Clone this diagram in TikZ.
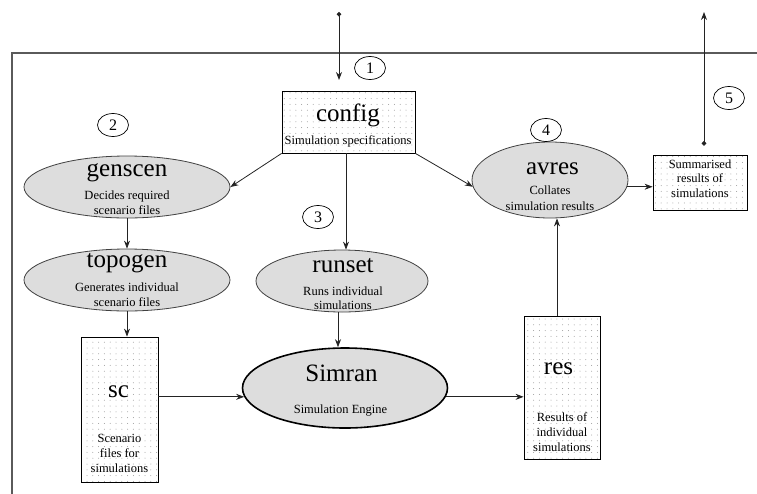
\documentclass[tikz,border=0pt]{standalone}
\usepackage{fontspec}
\setmainfont{Liberation Serif}
\newfontfamily\diagfont{Liberation Serif}
\usetikzlibrary{shapes.geometric,arrows.meta,patterns,calc}
\pgfdeclarepatternformonly{sparsedots}{\pgfqpoint{-1pt}{-1pt}}{\pgfqpoint{1pt}{1pt}}{\pgfqpoint{5.8pt}{5.8pt}}{\pgfpathcircle{\pgfpointorigin}{0.5pt}\pgfusepath{fill}}
\newcommand\mlines[1]{\begin{tabular}[t]{@{}c@{}}#1\end{tabular}}
\definecolor{ellfill}{RGB}{221,221,221}
\definecolor{framec}{RGB}{90,90,90}
\definecolor{linec}{RGB}{35,35,35}
\tikzset{
  proc/.style={ellipse, draw=black!75, fill=ellfill, line width=0.8pt, inner sep=0pt},
  filebox/.style={rectangle, draw=black, line width=0.8pt, pattern=sparsedots, pattern color=black!40, inner sep=0pt},
  numlbl/.style={ellipse, draw=black, line width=0.7pt, minimum width=31pt, minimum height=23pt, inner sep=0pt, font=\diagfont\fontsize{16}{18}\selectfont},
  ttl/.style={anchor=base, font=\diagfont\fontsize{25}{28}\selectfont, inner sep=0pt},
  sub/.style={anchor=base, font=\diagfont\fontsize{12.5}{15}\selectfont, inner sep=0pt},
  arr/.style={draw=linec, line width=0.8pt, -{Stealth[length=8pt,width=6pt]}},
  dotarr/.style={draw=linec, line width=0.8pt, {Circle[length=4.5pt]}-{Stealth[length=8pt,width=6pt]}},
  frameline/.style={draw=framec, line width=1.6pt}
}
\begin{document}
\begin{tikzpicture}[x=1pt,y=-1pt]
\useasboundingbox (0,0) rectangle (757,493);
% outer frame
\draw[frameline] (12,497) -- (12,53) -- (761,53);

% shapes
\node[filebox, minimum width=133pt, minimum height=62pt] (config) at (348.5,122) {};
\node[proc, minimum width=206pt, minimum height=62pt] (genscen) at (127,187) {};
\node[proc, minimum width=206pt, minimum height=62pt] (topogen) at (127,280) {};
\node[proc, minimum width=172pt, minimum height=62pt] (runset) at (342,281) {};
\node[proc, draw=black, line width=1.6pt, minimum width=205pt, minimum height=80pt] (simran) at (345,388) {};
\node[filebox, minimum width=77pt, minimum height=145pt] (sc) at (119.5,409.5) {};
\node[filebox, minimum width=76pt, minimum height=143pt] (res) at (562,387.5) {};
\node[proc, minimum width=156pt, minimum height=76pt] (avres) at (550,180) {};
\node[filebox, minimum width=94pt, minimum height=55pt] (summ) at (700,182.5) {};

% step numbers
\node[numlbl] (n1) at (370,68) {1};
\node[numlbl] (n2) at (113,125) {2};
\node[numlbl] (n3) at (318,217) {3};
\node[numlbl] (n4) at (546,130) {4};
\node[numlbl] (n5) at (729,98) {5};

% texts
\node[ttl] (tconfig) at (348,121) {config};
\node[sub] (sconfig) at (348,144) {Simulation specifications};
\node[ttl] (tgenscen) at (127,176) {genscen};
\node[sub] (sgenscen) at (127,199) {\mlines{Decides required\\scenario files}};
\node[ttl] (ttopogen) at (127,267) {topogen};
\node[sub] (stopogen) at (127,291) {\mlines{Generates individual\\scenario files}};
\node[ttl] (trunset) at (343,272) {runset};
\node[sub, font=\diagfont\fontsize{12.5}{14}\selectfont] (srunset) at (343,295) {\mlines{Runs individual\\simulations}};
\node[ttl] (tsimran) at (341.5,381) {Simran};
\node[sub] (ssimran) at (340.5,413) {Simulation Engine};
\node[ttl] (tsc) at (118.5,397) {sc};
\node[sub] (ssc) at (119.5,442) {\mlines{Scenario\\files for\\simulations}};
\node[ttl] (tres) at (558.5,374) {res};
\node[sub] (sres) at (562,421) {\mlines{Results of\\individual\\simulations}};
\node[ttl] (tavres) at (552.5,174) {avres};
\node[sub, font=\diagfont\fontsize{12.5}{16}\selectfont] (savres) at (550,194) {\mlines{Collates\\simulation results}};
\node[sub, font=\diagfont\fontsize{12.5}{14.5}\selectfont] (ssumm) at (700,168) {\mlines{Summarised\\results of\\simulations}};

% helper coordinates
\coordinate (rtop) at ($(runset.north)+(4,0)$);
\coordinate (rbot) at ($(runset.south)+(-4,0)$);
\coordinate (restop) at ($(res.north)+(-5,0)$);
\coordinate (sumtop) at ($(summ.north)+(4,-9)$);
\coordinate (in1) at (339,12);
\coordinate (in1end) at (339,80);
\coordinate (out5) at (704,12);

% connectors
\draw[dotarr] (in1) -- (in1end);
\draw[arr] (config.south west) -- (genscen.east);
\draw[arr] (config.south east) -- (avres.185);
\draw[arr] (rtop |- config.south) -- (rtop);
\draw[arr] (genscen.south) -- (topogen.north);
\draw[arr] (topogen.south) -- (topogen.south |- sc.north);
\draw[arr] (rbot) -- (rbot |- simran.north);
\draw[arr] (sc.east |- simran.185) -- (simran.185);
\draw[arr] (simran.-5) -- (simran.-5 -| res.west);
\draw[arr] (restop) -- (restop |- avres.south);
\draw[arr] (avres.-5) -- (avres.-5 -| summ.west);
\draw[dotarr] (sumtop) -- (out5);
\end{tikzpicture}
\end{document}
